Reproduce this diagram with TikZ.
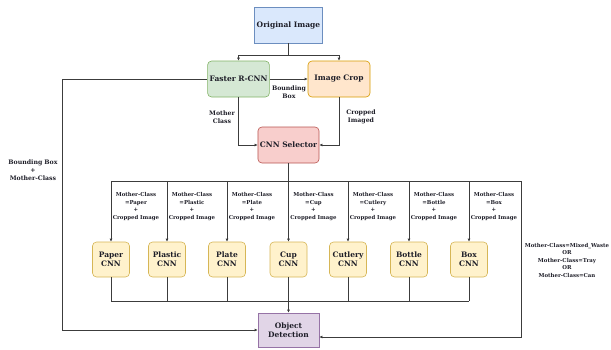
\documentclass[tikz,border=0pt]{standalone}
\usepackage{fontspec}
\setmainfont{DejaVu Serif}
\usepackage{xcolor}
\usepackage{tikz}
\usetikzlibrary{arrows.meta,positioning,calc}
\definecolor{lnc}{RGB}{60,60,60}
\definecolor{txc}{RGB}{30,30,40}
\tikzset{
  blk/.style={draw, line width=0.6pt, text=txc, inner sep=2pt, align=center,
    font=\fontsize{7.5}{9}\selectfont\bfseries},
  origbox/.style={blk, draw={rgb,255:red,108;green,142;blue,191}, fill={rgb,255:red,218;green,232;blue,252}, minimum width=61pt, minimum height=36pt},
  fastbox/.style={blk, rounded corners=4pt, draw={rgb,255:red,130;green,179;blue,102}, fill={rgb,255:red,213;green,232;blue,212}, minimum width=61pt, minimum height=36pt},
  cropbox/.style={blk, rounded corners=4pt, draw={rgb,255:red,215;green,155;blue,0}, fill={rgb,255:red,255;green,230;blue,204}, minimum width=62pt, minimum height=36pt},
  selbox/.style={blk, rounded corners=4pt, draw={rgb,255:red,184;green,84;blue,80}, fill={rgb,255:red,248;green,206;blue,204}, minimum width=61pt, minimum height=36pt},
  cnnbox/.style={blk, rounded corners=4pt, draw={rgb,255:red,214;green,182;blue,86}, fill={rgb,255:red,255;green,242;blue,204}, minimum width=37pt, minimum height=35pt},
  detbox/.style={blk, draw={rgb,255:red,150;green,115;blue,166}, fill={rgb,255:red,225;green,213;blue,231}, minimum width=61pt, minimum height=34pt},
  arr/.style={-{Latex[length=3pt,width=3pt]}, lnc, line width=0.6pt},
  ln/.style={lnc, line width=0.6pt},
  lbl/.style={text=txc, align=center, inner sep=0pt, font=\fontsize{6.2}{7.8}\selectfont\bfseries},
  slbl/.style={text=txc, align=center, inner sep=0pt, font=\fontsize{5.4}{7.5}\selectfont\bfseries},
}
\begin{document}
\begin{tikzpicture}[x=1pt,y=-1pt]
  \useasboundingbox (0,0) rectangle (611,349);
  % top part
  \node[origbox] (orig) at (288.5,25) {Original Image};
  \node[fastbox] (frcnn) at (238.5,79) {Faster R-CNN};
  \node[cropbox] (crop) at (339,79) {Image Crop};
  \node[selbox] (sel) at (288.5,145) {CNN Selector};
  \coordinate (split) at (288.5,55);
  \draw[ln] (orig.south) -- (split);
  \draw[arr] (split) -| (frcnn.north);
  \draw[arr] (split) -| (crop.north);
  \draw[arr] (frcnn.east) -- (crop.west);
  \node[lbl] (bbox) at (289,92) {Bounding\\Box};
  \draw[arr] (frcnn.south) |- (sel.west);
  \draw[arr] (crop.south) |- (sel.east);
  \node[lbl] (mcls) at (222,117) {Mother\\Class};
  \node[lbl] (cimg) at (361,117) {Cropped\\Imaged};
  % selector bus
  \coordinate (bus) at (288.5,181);
  \coordinate (busL) at (111,181);
  \coordinate (busR) at (521,181);
  \coordinate (join) at (288.5,301);
  \draw[ln] (sel.south) -- (bus);
  \draw[ln] (busL) -- (busR);
  % the seven cnns
  \foreach \nm/\xx/\cls in {paper/111/Paper, plastic/167/Plastic, plate/227/Plate, cup/288.5/Cup,
      cutlery/348/Cutlery, bottle/409/Bottle, box/469/Box} {
    \node[cnnbox] (\nm) at (\xx,259.5) {\cls\\CNN};
    \draw[arr] (\nm.north |- bus) -- (\nm.north);
    \node[slbl] (\nm lbl) at (\xx+25,206.5) {Mother-Class\\=\cls\\+\\Cropped Image};
    \draw[ln] (\nm.south) -- (\nm.south |- join);
  }
  \draw[ln] (paper.south |- join) -- (box.south |- join);
  \node[detbox] (det) at (288.5,330) {Object\\Detection};
  \draw[arr] (join) -- (det.north);
  % side paths
  \coordinate (lft) at (62,79);
  \draw[arr] (frcnn.west) -- (lft) |- (det.west);
  \node[lbl] (lftlbl) at (33,170) {Bounding Box\\+\\Mother-Class};
  \draw[arr] (busR) |- ([yshift=-7pt]det.east);
  \node[slbl] (rgtlbl) at (567,260) {Mother-Class=Mixed\_Waste\\OR\\Mother-Class=Tray\\OR\\Mother-Class=Can};
\end{tikzpicture}
\end{document}
